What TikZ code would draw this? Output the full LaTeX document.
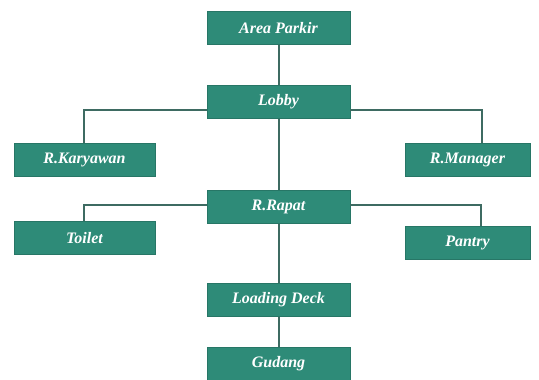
\documentclass[tikz,border=0pt]{standalone}
\usepackage{fontspec}
\setmainfont{Liberation Serif}
\begin{document}
\begin{tikzpicture}[x=1pt,y=-1pt,
  box/.style={fill=boxc, draw=boxc!85!black, line width=0.6pt, minimum height=33pt, text=white, font=\bfseries\itshape\fontsize{16}{18}\selectfont, inner sep=0pt},
  wide/.style={box, minimum width=143pt},
  side/.style={box, minimum width=141pt},
  sider/.style={box, minimum width=125pt},
  link/.style={draw=linec, line width=2pt}]
\definecolor{boxc}{HTML}{2E8B78}
\definecolor{linec}{HTML}{3E6B62}
\useasboundingbox (0,0) rectangle (539,380);
\draw[link] (278.5,28) -- (278.5,363.5);
\coordinate (lk) at (84,110);
\coordinate (lm) at (482,110);
\coordinate (rt) at (84,205);
\coordinate (rp) at (481,205);
\node[wide] (park) at (278.5,28) {Area Parkir};
\node[wide] (lobby) at (278.5,102) {Lobby};
\node[side] (kary) at (84.5,160) {R.Karyawan};
\node[sider] (mgr) at (467.5,160) {R.Manager};
\node[wide] (rapat) at (278.5,206.5) {R.Rapat};
\node[side] (toilet) at (84.5,238) {Toilet};
\node[sider] (pantry) at (467.5,243) {Pantry};
\node[wide] (load) at (278.5,300) {Loading Deck};
\node[wide] (gud) at (278.5,363.5) {Gudang};
\draw[link] (lobby.west |- lk) -- (lk) -- (lk |- kary.north);
\draw[link] (lobby.east |- lm) -- (lm) -- (lm |- mgr.north);
\draw[link] (rapat.west |- rt) -- (rt) -- (rt |- toilet.north);
\draw[link] (rapat.east |- rp) -- (rp) -- (rp |- pantry.north);
\end{tikzpicture}
\end{document}
